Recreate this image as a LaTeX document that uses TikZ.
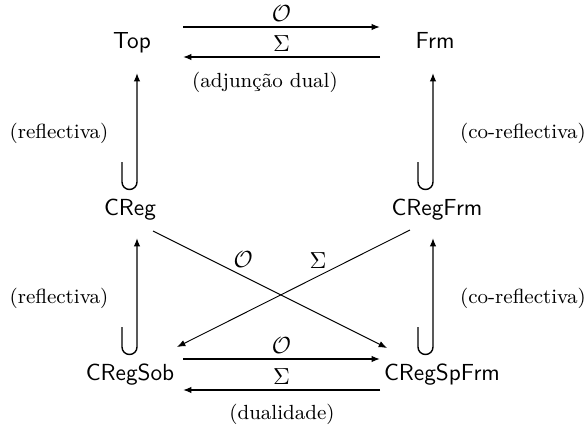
\documentclass[tikz,border=0pt]{standalone}
\usetikzlibrary{arrows.meta}

\begin{document}
\begin{tikzpicture}[x=0.43pt,y=0.43pt,
obj/.style={font=\sffamily,anchor=base},
lbl/.style={font=\fontsize{8.8}{10}\selectfont},
fn/.style={above,inner sep=2pt},
arrow/.style={-{Latex[length=3.6pt,width=2.8pt]},line width=0.6pt},
diag/.style={-{Latex[length=3.6pt,width=2.8pt]},line width=0.4pt}]
\useasboundingbox (0,0) rectangle (584,430);
\node[obj] (top) at (132,382) {Top};
\node[obj] (frm) at (435,382) {Frm};
\node[obj] (creg) at (130,215) {CReg};
\node[obj] (cregfrm) at (437,215) {CRegFrm};
\node[obj] (cregsob) at (130,50) {CRegSob};
\node[obj] (cregspfrm) at (442,50) {CRegSpFrm};
\node[lbl] (adj) at (265,348) {(adjunção dual)};
\node[lbl] (dual) at (282,16) {(dualidade)};
\node[lbl] (refl1) at (59,297) {(reflectiva)};
\node[lbl] (corefl1) at (523,297) {(co-reflectiva)};
\node[lbl] (refl2) at (59,132) {(reflectiva)};
\node[lbl] (corefl2) at (523,132) {(co-reflectiva)};
\draw[arrow] ([shift={(51,21)}]top.base) -- node[fn] {$\mathcal{O}$} ([shift={(-55,21)}]frm.base);
\draw[arrow] ([shift={(-55,-9)}]frm.base) -- node[fn] {$\Sigma$} ([shift={(51,-9)}]top.base);
\draw[arrow] ([shift={(53,21)}]cregsob.base) -- node[fn] {$\mathcal{O}$} ([shift={(-62,21)}]cregspfrm.base);
\draw[arrow] ([shift={(-62,-10)}]cregspfrm.base) -- node[fn] {$\Sigma$} ([shift={(53,-10)}]cregsob.base);
% inclusoes
\draw[arrow] ([shift={(-8,53)}]creg.base) -- ++(0,-20) arc[start angle=180,end angle=360,radius=7.5] -- ([shift={(5,-25)}]top.base);
\draw[arrow] ([shift={(-8,53)}]cregsob.base) -- ++(0,-20) arc[start angle=180,end angle=360,radius=7.5] -- ([shift={(7,-23)}]creg.base);
\draw[arrow] ([shift={(-19,53)}]cregfrm.base) -- ++(0,-20) arc[start angle=180,end angle=360,radius=7.5] -- ([shift={(-2,-25)}]frm.base);
\draw[arrow] ([shift={(-24,53)}]cregspfrm.base) -- ++(0,-20) arc[start angle=180,end angle=360,radius=7.5] -- ([shift={(-4,-23)}]cregfrm.base);
\draw[diag] ([shift={(23,-16)}]creg.base) -- node[pos=0.385,above] {$\mathcal{O}$} ([shift={(-55,32)}]cregspfrm.base);
\draw[diag] ([shift={(-27,-15)}]cregfrm.base) -- node[pos=0.395,above] {$\Sigma$} ([shift={(47,33)}]cregsob.base);
\end{tikzpicture}
\end{document}
